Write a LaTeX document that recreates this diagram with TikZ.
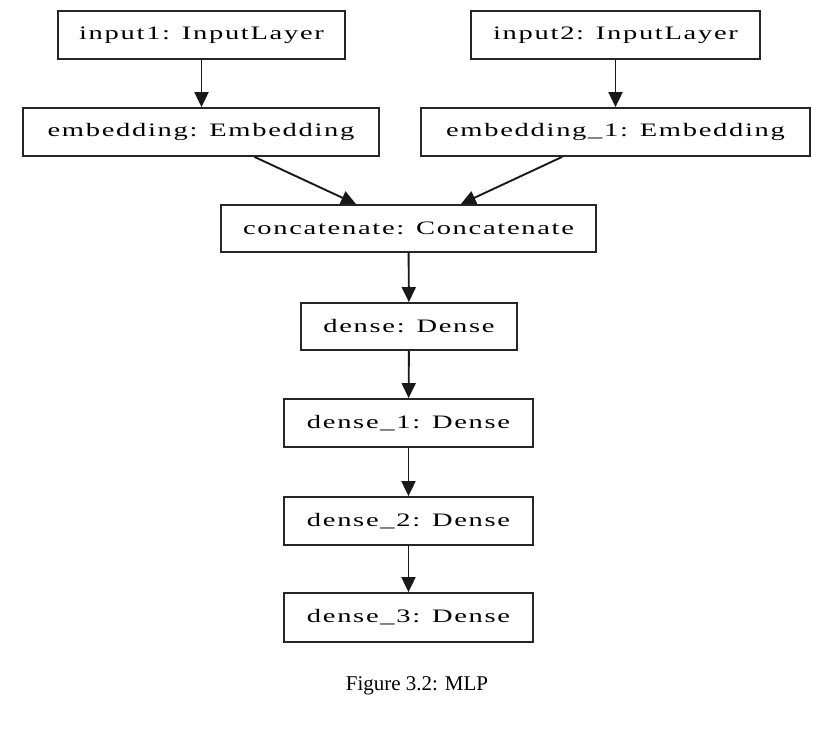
\documentclass[tikz,border=0pt]{standalone}
\usepackage{fontspec}
\usepackage{graphicx}
\setmainfont{Liberation Serif}
\newfontfamily\boxfont[LetterSpace=6]{Liberation Serif}
\newcommand\wide[1]{\scalebox{1.5}[1]{#1}}
\usetikzlibrary{arrows.meta}
\begin{document}
\begin{tikzpicture}[x=1pt,y=-1pt,
  layer/.style={draw=black!85,line width=1.8pt,inner sep=0pt,
    font=\boxfont\fontsize{19}{22}\selectfont,text=black},
  conn/.style={line width=1.9pt,draw=black!90,
    -{Triangle[length=15pt,width=14pt]}}]
\useasboundingbox (0,0) rectangle (832,737);
\node[layer,minimum width=287pt,minimum height=48pt] (in1) at (201.5,35) {\wide{input1: InputLayer}};
\node[layer,minimum width=289pt,minimum height=48pt] (in2) at (615.5,35) {\wide{input2: InputLayer}};
\node[layer,minimum width=356pt,minimum height=48pt] (emb) at (201,132) {\wide{embedding: Embedding}};
\node[layer,minimum width=389pt,minimum height=48pt] (emb1) at (615.5,132) {\wide{embedding\_1: Embedding}};
\node[layer,minimum width=375pt,minimum height=47pt] (cat) at (408.5,228.5) {\wide{concatenate: Concatenate}};
\node[layer,minimum width=216pt,minimum height=47pt] (d0) at (409,326.5) {\wide{dense: Dense}};
\node[layer,minimum width=249pt,minimum height=48pt] (d1) at (408.5,423) {\wide{dense\_1: Dense}};
\node[layer,minimum width=249pt,minimum height=48pt] (d2) at (408.5,521) {\wide{dense\_2: Dense}};
\node[layer,minimum width=249pt,minimum height=49pt] (d3) at (408.5,617.5) {\wide{dense\_3: Dense}};
\node[font=\fontsize{21}{24}\selectfont] (cap) at (417,686) {Figure 3.2: MLP};
\draw[conn] (in1) -- (emb.north -| in1);
\draw[conn] (in2) -- (emb1.north -| in2);
\draw[conn] (emb) -- (cat);
\draw[conn] (emb1) -- (cat);
\draw[conn] (cat) -- (d0);
\draw[conn] (d0) -- (d1);
\draw[conn] (d1) -- (d2);
\draw[conn] (d2) -- (d3);
\end{tikzpicture}
\end{document}
